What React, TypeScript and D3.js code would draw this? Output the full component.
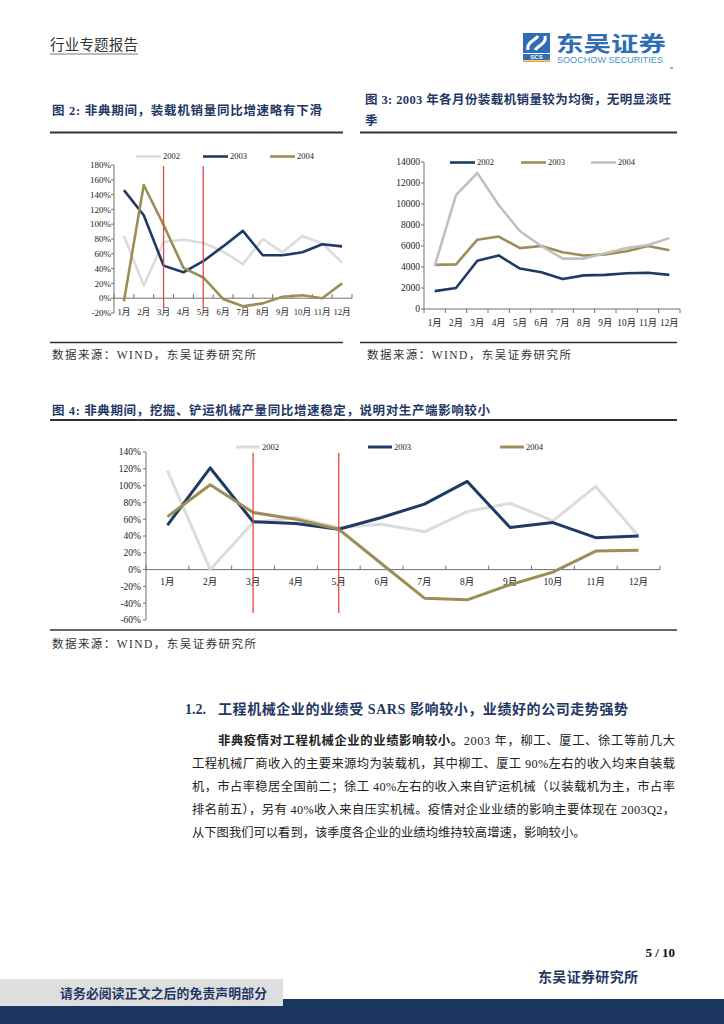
import * as d3 from 'd3';
import { useEffect, useRef } from 'react';

const months = ['1月', '2月', '3月', '4月', '5月', '6月', '7月', '8月', '9月', '10月', '11月', '12月'];
const years = ['2002', '2003', '2004'];
const sarsMonths = ['3月', '5月'];

// 图2 装载机销量同比增速 (%)
const loaderYoy2002 = [84, 17, 76, 79, 75, 63, 46, 80, 62, 84, 74, 48];
const loaderYoy2003 = [146, 112, 44, 35, 50, 70, 91, 58, 58, 62, 73, 70];
const loaderYoy2004 = [-4, 153, 99, 41, 28, -1, -11, -7, 2, 4, 0, 20];
const fig2Ticks = [-20, 0, 20, 40, 60, 80, 100, 120, 140, 160, 180];

// 图3 装载机月度销量 (台)
const loaderSales2002 = [1700, 2000, 4600, 5100, 3850, 3500, 2850, 3200, 3250, 3400, 3450, 3250];
const loaderSales2003 = [4200, 4250, 6600, 6900, 5800, 6000, 5400, 5100, 5200, 5500, 6000, 5600];
const loaderSales2004 = [4100, 10850, 12950, 9900, 7400, 6000, 4800, 4800, 5300, 5800, 6100, 6750];
const fig3Ticks = [0, 2000, 4000, 6000, 8000, 10000, 12000, 14000];

// 图4 挖掘、铲运机械产量同比增速 (%)
const outputYoy2002 = [118, 0, 56, 62, 50, 54, 45, 69, 79, 58, 99, 40];
const outputYoy2003 = [53, 121, 57, 55, 48, 62, 78, 105, 50, 56, 38, 40];
const outputYoy2004 = [63, 101, 68, 60, 48, 7, -34, -36, -18, -3, 22, 23];
const fig4Ticks = [-60, -40, -20, 0, 20, 40, 60, 80, 100, 120, 140];

const NAVY = '#1f3b64';
const OLIVE = '#9c8e57';
const LIGHT = '#dcdcdc';
const GREY = '#c0c0c0';
const RED = '#e04848';
const TITLE = '#1f3864';
const SERIF = "'Liberation Serif', 'Times New Roman', 'Noto Sans CJK SC', serif";
const SANS = "'Liberation Sans', Arial, 'Noto Sans CJK SC', sans-serif";

interface Series { values: number[]; color: string }

interface ChartProps {
  left: number;
  right: number;
  yBottom: number;
  yTop: number;
  domain: [number, number];
  ticks: number[];
  fmt: (v: number) => string;
  series: Series[];
  lineWidth: number;
  yFont: number;
  yLabelX: number;
  xFont: number;
  xLabelY: number;
  xTickDir: number;
  legendY: number;
  legendX: number[];
  legendLen: number;
  marks?: [number, number];
}

function LineChart(p: ChartProps) {
  const ref = useRef<SVGGElement>(null);

  useEffect(() => {
    if (!ref.current) return;
    const g = d3.select(ref.current);
    g.selectAll('*').remove();

    const x = d3.scaleBand().domain(months).range([p.left, p.right]).padding(0);
    const y = d3.scaleLinear().domain(p.domain).range([p.yBottom, p.yTop]);
    const cx = (m: string) => (x(m) ?? 0) + x.bandwidth() / 2;
    const axisColor = '#707070';

    // y axis
    g.append('line')
      .attr('x1', p.left).attr('x2', p.left)
      .attr('y1', y(p.domain[0])).attr('y2', y(p.domain[1]))
      .attr('stroke', axisColor);
    g.selectAll('.ytick')
      .data(p.ticks)
      .join('line')
      .attr('x1', p.left - 3).attr('x2', p.left)
      .attr('y1', d => y(d)).attr('y2', d => y(d))
      .attr('stroke', axisColor);
    g.selectAll('.ylabel')
      .data(p.ticks)
      .join('text')
      .attr('x', p.yLabelX)
      .attr('y', d => y(d))
      .attr('dy', '0.35em')
      .attr('text-anchor', 'end')
      .style('font-family', SERIF)
      .style('font-size', `${p.yFont}px`)
      .style('fill', '#222')
      .text(d => p.fmt(d));

    // x axis at zero
    const y0 = y(0);
    g.append('line')
      .attr('x1', p.left).attr('x2', p.right)
      .attr('y1', y0).attr('y2', y0)
      .attr('stroke', axisColor);
    g.selectAll('.xtick')
      .data(d3.range(months.length + 1))
      .join('line')
      .attr('x1', i => p.left + i * x.bandwidth())
      .attr('x2', i => p.left + i * x.bandwidth())
      .attr('y1', y0).attr('y2', y0 + 4 * p.xTickDir)
      .attr('stroke', axisColor);
    g.selectAll('.xlabel')
      .data(months)
      .join('text')
      .attr('x', d => cx(d))
      .attr('y', p.xLabelY)
      .attr('dy', '0.35em')
      .attr('text-anchor', 'middle')
      .style('font-family', SERIF)
      .style('font-size', `${p.xFont}px`)
      .style('fill', '#222')
      .text(d => d);

    // series
    const line = d3.line<number>()
      .x((_, i) => cx(months[i]))
      .y(d => y(d));
    p.series.forEach(s => {
      g.append('path')
        .attr('d', line(s.values) ?? '')
        .attr('fill', 'none')
        .attr('stroke', s.color)
        .attr('stroke-width', p.lineWidth)
        .attr('stroke-linejoin', 'round');
    });

    // SARS period markers
    if (p.marks) {
      g.selectAll('.mark')
        .data(sarsMonths)
        .join('line')
        .attr('x1', d => cx(d)).attr('x2', d => cx(d))
        .attr('y1', p.marks[0]).attr('y2', p.marks[1])
        .attr('stroke', RED)
        .attr('stroke-width', 1.3);
    }

    // legend
    p.series.forEach((s, i) => {
      const lx = p.legendX[i];
      g.append('line')
        .attr('x1', lx).attr('x2', lx + p.legendLen)
        .attr('y1', p.legendY).attr('y2', p.legendY)
        .attr('stroke', s.color)
        .attr('stroke-width', p.lineWidth);
      g.append('text')
        .attr('x', lx + p.legendLen + 2)
        .attr('y', p.legendY)
        .attr('dy', '0.35em')
        .style('font-family', SERIF)
        .style('font-size', '8.5px')
        .style('fill', '#222')
        .text(years[i]);
    });
  }, [p]);

  return <g ref={ref} />;
}

function Logo() {
  return (
    <g>
      <rect x={523} y={33} width={27} height={20} fill="#2f6db5" />
      <path d="M528,50 C526,42 536,40 538,36 M545,36 C547,44 537,46 535,50" stroke="#fff" strokeWidth={3} fill="none" />
      <rect x={523} y={54} width={27} height={6} fill="#2f6db5" />
      <text x={536.5} y={59} textAnchor="middle" style={{ fontFamily: SANS, fontSize: 6, fontWeight: 700, fill: '#fff' }}>SCS</text>
      <rect x={523} y={60.5} width={27} height={1.5} fill="#f0a020" />
      <text x={556} y={51} textLength={110} lengthAdjust="spacingAndGlyphs"
        style={{ fontFamily: "'Noto Sans CJK SC', sans-serif", fontSize: 21, fontWeight: 700, fill: '#2f6db5' }}>东吴证券</text>
      <text x={557} y={63} textLength={106} lengthAdjust="spacingAndGlyphs"
        style={{ fontFamily: SANS, fontSize: 8.5, fill: '#4b8fd3' }}>SOOCHOW SECURITIES</text>
      <line x1={670} x2={673} y1={68} y2={68} stroke="#555" />
    </g>
  );
}

const titleStyle = { fontFamily: SERIF, fontSize: 12.5, fontWeight: 700, fill: TITLE };
const sourceStyle = { fontFamily: SERIF, fontSize: 11.5, fill: '#333' };
const bodyStyle = { fontFamily: SERIF, fontSize: 12.3, fill: '#222' };

export default function App() {
  useEffect(() => {
    document.body.style.margin = '0';
  }, []);

  const fig2 = useRef<ChartProps>({
    left: 114, right: 352, yBottom: 313, yTop: 165,
    domain: [-20, 180], ticks: fig2Ticks, fmt: v => `${v}%`,
    series: [
      { values: loaderYoy2002, color: LIGHT },
      { values: loaderYoy2003, color: NAVY },
      { values: loaderYoy2004, color: OLIVE },
    ],
    lineWidth: 2.6, yFont: 9, yLabelX: 111, xFont: 8.7, xLabelY: 311.5, xTickDir: -1,
    legendY: 156.5, legendX: [136, 203, 270], legendLen: 25, marks: [166, 308],
  }).current;

  const fig3 = useRef<ChartProps>({
    left: 424, right: 680, yBottom: 309, yTop: 162,
    domain: [0, 14000], ticks: fig3Ticks, fmt: v => `${v}`,
    series: [
      { values: loaderSales2002, color: NAVY },
      { values: loaderSales2003, color: OLIVE },
      { values: loaderSales2004, color: GREY },
    ],
    lineWidth: 2.6, yFont: 9.5, yLabelX: 420, xFont: 9.3, xLabelY: 322.5, xTickDir: 1,
    legendY: 162.5, legendX: [450, 521, 591], legendLen: 25,
  }).current;

  const fig4 = useRef<ChartProps>({
    left: 146, right: 660, yBottom: 620, yTop: 452,
    domain: [-60, 140], ticks: fig4Ticks, fmt: v => `${v}%`,
    series: [
      { values: outputYoy2002, color: LIGHT },
      { values: outputYoy2003, color: NAVY },
      { values: outputYoy2004, color: OLIVE },
    ],
    lineWidth: 3, yFont: 9.5, yLabelX: 141, xFont: 9.5, xLabelY: 581.5, xTickDir: -1,
    legendY: 447, legendX: [236, 368, 500], legendLen: 24, marks: [453, 613],
  }).current;

  return (
    <svg width={724} height={1024} style={{ display: 'block', background: '#fff' }}>
      {/* header */}
      <text x={50} y={50} textLength={88} style={{ fontFamily: SERIF, fontSize: 14.5, fill: '#333' }}>行业专题报告</text>
      <line x1={50} x2={138} y1={54} y2={54} stroke="#555" strokeWidth={0.8} />
      <Logo />

      {/* figure titles */}
      <text x={52} y={114.5} textLength={270} style={titleStyle}>图 2: 非典期间，装载机销量同比增速略有下滑</text>
      <text x={365} y={103.5} textLength={306} style={titleStyle}>图 3: 2003 年各月份装载机销量较为均衡，无明显淡旺</text>
      <text x={365} y={124.5} style={titleStyle}>季</text>
      <line x1={50} x2={343} y1={132.5} y2={132.5} stroke="#333" strokeWidth={1.8} />
      <line x1={360} x2={677} y1={132.5} y2={132.5} stroke="#333" strokeWidth={1.8} />

      <LineChart {...fig2} />
      <LineChart {...fig3} />

      <line x1={50} x2={343} y1={342.5} y2={342.5} stroke="#333" strokeWidth={1.5} />
      <line x1={360} x2={677} y1={342.5} y2={342.5} stroke="#333" strokeWidth={1.5} />
      <text x={52} y={359} textLength={204} style={sourceStyle}>数据来源：WIND，东吴证券研究所</text>
      <text x={367} y={359} textLength={204} style={sourceStyle}>数据来源：WIND，东吴证券研究所</text>

      <text x={52} y={414.5} textLength={438} style={titleStyle}>图 4: 非典期间，挖掘、铲运机械产量同比增速稳定，说明对生产端影响较小</text>
      <line x1={50} x2={677} y1={420} y2={420} stroke="#333" strokeWidth={1.8} />

      <LineChart {...fig4} />

      <line x1={50} x2={677} y1={630} y2={630} stroke="#333" strokeWidth={1.5} />
      <text x={52} y={648} textLength={204} style={sourceStyle}>数据来源：WIND，东吴证券研究所</text>

      {/* section */}
      <text x={185} y={714} style={{ fontFamily: SERIF, fontSize: 14, fontWeight: 700, fill: TITLE }}>1.2.</text>
      <text x={218} y={714} textLength={410} style={{ fontFamily: SERIF, fontSize: 14, fontWeight: 700, fill: TITLE }}>工程机械企业的业绩受 SARS 影响较小，业绩好的公司走势强势</text>

      <text x={218} y={744.5} textLength={457} lengthAdjust="spacing" style={bodyStyle}>
        <tspan fontWeight={700}>非典疫情对工程机械企业的业绩影响较小。</tspan>
        <tspan>2003 年，柳工、厦工、徐工等前几大</tspan>
      </text>
      <text x={192} y={768} textLength={483} lengthAdjust="spacing" style={bodyStyle}>工程机械厂商收入的主要来源均为装载机，其中柳工、厦工 90%左右的收入均来自装载</text>
      <text x={192} y={791} textLength={483} lengthAdjust="spacing" style={bodyStyle}>机，市占率稳居全国前二；徐工 40%左右的收入来自铲运机械（以装载机为主，市占率</text>
      <text x={192} y={814} textLength={483} lengthAdjust="spacing" style={bodyStyle}>排名前五），另有 40%收入来自压实机械。疫情对企业业绩的影响主要体现在 2003Q2，</text>
      <text x={192} y={836.5} style={bodyStyle}>从下图我们可以看到，该季度各企业的业绩均维持较高增速，影响较小。</text>

      {/* footer */}
      <text x={675} y={956.5} textAnchor="end" style={{ fontFamily: SERIF, fontSize: 13, fontWeight: 700, fill: '#111' }}>5 / 10</text>
      <text x={538} y={982} textLength={100} style={{ fontFamily: SERIF, fontSize: 14, fontWeight: 700, fill: TITLE }}>东吴证券研究所</text>
      <rect x={0} y={999} width={724} height={25} fill="#1b365f" />
      <rect x={0} y={979} width={283} height={27} fill="#dedede" />
      <text x={60} y={997.5} textLength={207} style={{ fontFamily: SERIF, fontSize: 12.8, fontWeight: 700, fill: TITLE }}>请务必阅读正文之后的免责声明部分</text>
    </svg>
  );
}
